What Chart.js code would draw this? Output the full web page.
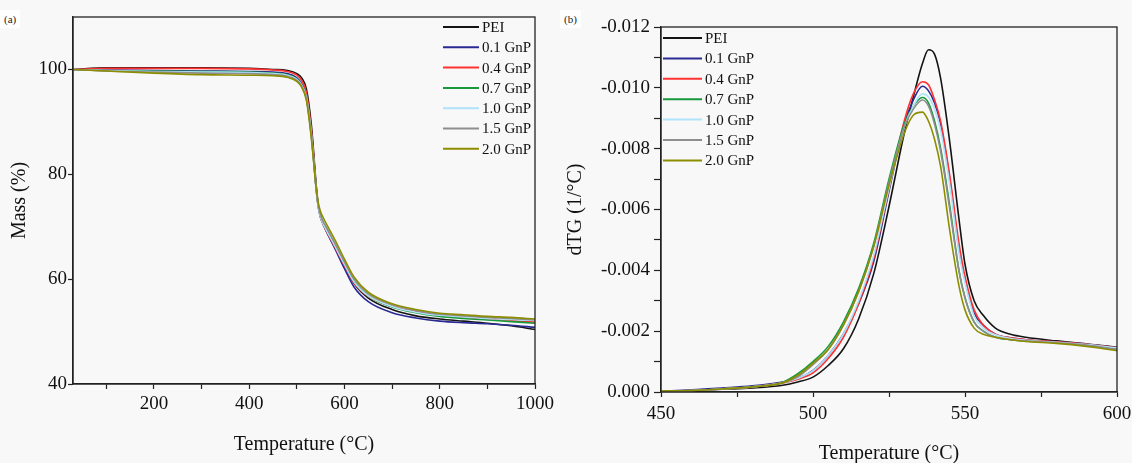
<!DOCTYPE html>
<html>
<head>
<meta charset="utf-8">
<script src="https://cdn.jsdelivr.net/npm/chart.js@4.4.0/dist/chart.umd.min.js"></script>
<style>
  html, body { margin: 0; padding: 0; background: #f8f8f8; overflow: hidden; }
  body { width: 1132px; height: 463px; position: relative; }
  canvas { position: absolute; top: 0; }
  #tga { left: 0; }
  #dtg { left: 556px; }
  .tag { position: absolute; top: 10px; font: 11px "Liberation Serif", serif; color: #222; background: #fff; padding: 3px 4px; }
</style>
</head>
<body>
<canvas id="tga" width="556" height="463"></canvas>
<canvas id="dtg" width="576" height="468"></canvas>
<div class="tag" style="left:0">(a)</div>
<div class="tag" style="left:560px">(b)</div>
<script>
const seriesNames = ['PEI', '0.1 GnP', '0.4 GnP', '0.7 GnP', '1.0 GnP', '1.5 GnP', '2.0 GnP'];
const seriesColors = ['#141414', '#2a2a94', '#ff3232', '#16993a', '#aee3fa', '#8e8e8e', '#8d8d00'];

// (a) mass loss, %
const tgaTemp = [30, 100, 200, 300, 400, 450, 480, 500, 510, 520, 530, 535, 540, 545, 550, 555, 560, 580, 600, 620, 650, 700, 750, 800, 850, 900, 950, 1000];
const tgaPEI  = [100, 100.3, 100.3, 100.3, 100.2, 100.0, 99.8, 99.2, 98.4, 96.3, 89.8, 84.5, 78.5, 74.0, 71.8, 70.6, 69.6, 66.0, 62.6, 59.2, 56.4, 54.2, 53.0, 52.4, 52.0, 51.6, 51.1, 50.4];
const tga01   = [100, 99.9, 99.8, 99.7, 99.6, 99.5, 99.2, 98.4, 97.3, 95.0, 88.5, 83.5, 77.8, 73.8, 71.7, 70.5, 69.5, 65.8, 62.0, 58.5, 55.7, 53.6, 52.6, 52.0, 51.7, 51.5, 51.2, 50.8];
const tga04   = [100, 100.2, 100.2, 100.2, 100.1, 99.9, 99.6, 98.9, 97.9, 95.6, 88.8, 83.7, 78.0, 73.9, 71.7, 70.6, 69.6, 66.1, 62.6, 59.3, 56.7, 54.8, 53.8, 53.1, 52.7, 52.4, 52.1, 51.8];
const tga07   = [100, 99.8, 99.7, 99.6, 99.5, 99.3, 99.0, 98.2, 97.0, 94.6, 87.9, 83.0, 77.8, 74.0, 72.1, 71.0, 70.1, 66.6, 63.0, 59.6, 56.8, 54.7, 53.6, 52.9, 52.5, 52.2, 51.9, 51.6];
const tga10   = [100, 99.8, 99.6, 99.5, 99.4, 99.2, 98.9, 98.1, 97.0, 94.7, 88.0, 83.0, 77.6, 73.7, 71.7, 70.6, 69.7, 66.3, 62.8, 59.5, 56.8, 54.8, 53.7, 53.1, 52.8, 52.5, 52.3, 52.1];
const tga15   = [100, 99.7, 99.5, 99.3, 99.2, 99.0, 98.7, 97.9, 96.8, 94.4, 87.6, 82.8, 77.7, 74.0, 72.1, 71.0, 70.2, 66.8, 63.3, 60.0, 57.2, 55.1, 54.0, 53.3, 53.0, 52.7, 52.5, 52.2];
const tga20   = [100, 99.7, 99.3, 99.0, 98.9, 98.8, 98.5, 97.7, 96.6, 94.1, 87.2, 82.6, 77.9, 74.6, 72.8, 71.8, 70.9, 67.5, 63.8, 60.4, 57.5, 55.3, 54.2, 53.5, 53.2, 52.9, 52.7, 52.4];

// (b) derivative, 1/°C
const dtgTemp = [450, 460, 470, 480, 490, 495, 500, 505, 510, 515, 520, 525, 530, 533, 536, 538, 540, 542, 545, 548, 550, 553, 556, 560, 565, 570, 580, 590, 600];
const dtgPEI = [-0.00003, -0.00005, -0.00009, -0.00013, -0.00022, -0.00033, -0.00049, -0.00087, -0.00142, -0.0024, -0.0039, -0.0061, -0.0085, -0.0097, -0.0108, -0.01125, -0.0111, -0.0103, -0.0082, -0.0057, -0.0042, -0.0030, -0.00252, -0.0021, -0.0019, -0.0018, -0.00168, -0.00158, -0.00147];
const dtg01  = [-0.00003, -0.00007, -0.00013, -0.0002, -0.00033, -0.00044, -0.00071, -0.0012, -0.0019, -0.0029, -0.0043, -0.0066, -0.0088, -0.0096, -0.01005, -0.0099, -0.0095, -0.0088, -0.0070, -0.0047, -0.0037, -0.0026, -0.0022, -0.0019, -0.00178, -0.00172, -0.00165, -0.00157, -0.00145];
const dtg04  = [-0.00003, -0.00005, -0.0001, -0.00017, -0.0003, -0.00042, -0.00063, -0.0011, -0.0018, -0.0029, -0.0044, -0.0067, -0.0089, -0.0098, -0.0102, -0.0101, -0.0096, -0.0089, -0.0071, -0.0049, -0.0038, -0.0027, -0.0022, -0.0019, -0.00178, -0.00172, -0.00165, -0.00157, -0.00145];
const dtg07  = [-0.00003, -0.00005, -0.0001, -0.00017, -0.00032, -0.0006, -0.001, -0.0015, -0.0023, -0.0034, -0.0049, -0.007, -0.0088, -0.0094, -0.00968, -0.0095, -0.0089, -0.0080, -0.0061, -0.0040, -0.0031, -0.0023, -0.002, -0.0018, -0.00172, -0.00168, -0.00162, -0.00154, -0.0014];
const dtg10  = [-0.00003, -0.00005, -0.0001, -0.00017, -0.0003, -0.00045, -0.0007, -0.0012, -0.0019, -0.003, -0.0045, -0.0067, -0.0087, -0.0094, -0.0098, -0.0097, -0.0093, -0.0086, -0.0068, -0.0046, -0.0036, -0.0025, -0.0021, -0.00188, -0.00176, -0.0017, -0.00163, -0.00156, -0.00145];
const dtg15  = [-0.00003, -0.00005, -0.0001, -0.00017, -0.0003, -0.0005, -0.0009, -0.0014, -0.0022, -0.0033, -0.0048, -0.0069, -0.0087, -0.0093, -0.0096, -0.0094, -0.0088, -0.0079, -0.006, -0.0040, -0.0031, -0.0023, -0.002, -0.0018, -0.00172, -0.00168, -0.00162, -0.00154, -0.0014];
const dtg20  = [-0.00003, -0.00005, -0.0001, -0.00017, -0.0003, -0.00055, -0.00095, -0.0014, -0.0022, -0.0033, -0.0048, -0.0068, -0.0085, -0.0091, -0.0092, -0.0089, -0.0083, -0.0074, -0.0053, -0.0035, -0.0027, -0.0021, -0.0019, -0.0018, -0.00172, -0.00166, -0.0016, -0.0015, -0.00136];

// tick values (labelled + unlabelled minor ones)
const tgaXLabels = [200, 400, 600, 800, 1000];
const tgaXMinor = [100, 300, 500, 700, 900];
const tgaYLabels = [40, 60, 80, 100];
const dtgXLabels = [450, 500, 550, 600];
const dtgXMinor = [475, 525, 575];
const dtgYLabels = [0, -0.002, -0.004, -0.006, -0.008, -0.010, -0.012];
const dtgYMinor = [-0.001, -0.003, -0.005, -0.007, -0.009, -0.011];

const FONT = '"Liberation Serif", "Times New Roman", serif';

function toDatasets(xs, ys) {
    return ys.map((arr, i) => ({
        label: seriesNames[i],
        data: arr.map((y, j) => ({ x: xs[j], y: y })),
        borderColor: seriesColors[i],
        borderWidth: 1.6,
        pointRadius: 0,
        cubicInterpolationMode: 'monotone',
        order: ys.length - i,
    }));
}

function setTicks(labels, minor) {
    return (scale) => {
        scale.ticks = labels.concat(minor || []).sort((a, b) => a - b).map(v => ({ value: v }));
    };
}

function fmt(labels, digits) {
    return (v) => {
        const hit = labels.some(l => Math.abs(l - v) < 1e-9);
        if (!hit) return '';
        const val = Math.abs(v) < 1e-9 ? 0 : v;
        return digits ? val.toFixed(digits) : String(val);
    };
}

// box round the plot area plus the in-plot legend
function decorations(legendPos) {
    return {
        id: 'decorations',
        afterDraw(chart) {
            const { ctx, chartArea: a } = chart;
            ctx.save();
            ctx.strokeStyle = '#222';
            ctx.lineWidth = 1.3;
            ctx.strokeRect(a.left, a.top, a.right - a.left, a.bottom - a.top);

            const x0 = legendPos.fromRight ? a.right - legendPos.dx : a.left + legendPos.dx;
            ctx.font = '15px ' + FONT;
            ctx.textBaseline = 'middle';
            ctx.fillStyle = '#111';
            chart.data.datasets.forEach((ds, i) => {
                const y = a.top + legendPos.dy + i * legendPos.step;
                ctx.strokeStyle = ds.borderColor;
                ctx.lineWidth = 2;
                ctx.beginPath();
                ctx.moveTo(x0, y);
                ctx.lineTo(x0 + legendPos.len, y);
                ctx.stroke();
                ctx.fillText(ds.label, x0 + legendPos.len + 3, y + 1);
            });
            ctx.restore();
        }
    };
}

function axis(opts) {
    return {
        type: 'linear',
        min: opts.min,
        max: opts.max,
        reverse: !!opts.reverse,
        afterBuildTicks: setTicks(opts.labels, opts.minor),
        afterFit: (s) => {
            if (opts.width) s.width = opts.width;
            if (opts.height) s.height = opts.height;
            // let the layout padding alone decide where the plot box ends
            s.paddingLeft = 0; s.paddingRight = 0; s.paddingTop = 0; s.paddingBottom = 0;
        },
        grid: { drawOnChartArea: false, tickLength: opts.tickLength, tickColor: '#222', tickWidth: 1.2 },
        border: { color: '#222', width: 1.3 },
        ticks: {
            autoSkip: false,
            maxRotation: 0,
            padding: opts.padding,
            color: '#111',
            font: { family: FONT, size: opts.fontSize },
            callback: fmt(opts.labels, opts.digits),
        },
        title: {
            display: true,
            text: opts.title,
            color: '#111',
            font: { family: FONT, size: 20 },
            padding: opts.titlePadding,
        },
    };
}

new Chart(document.getElementById('tga'), {
    type: 'line',
    data: { datasets: toDatasets(tgaTemp, [tgaPEI, tga01, tga04, tga07, tga10, tga15, tga20]) },
    options: {
        responsive: false,
        animation: false,
        layout: { padding: { top: 17, right: 21, left: 0, bottom: 0 } },
        plugins: { legend: { display: false }, tooltip: { enabled: false } },
        scales: {
            x: axis({ min: 30, max: 1000, labels: tgaXLabels, minor: tgaXMinor, height: 79, tickLength: 5, padding: 4,
                      fontSize: 19, title: 'Temperature (°C)', titlePadding: { top: 0, bottom: 6 } }),
            y: axis({ min: 40, max: 110, labels: tgaYLabels, width: 73, tickLength: 5, padding: 1,
                      fontSize: 19, title: 'Mass (%)', titlePadding: { top: 8, bottom: 0 } }),
        },
    },
    plugins: [decorations({ fromRight: true, dx: 92, dy: 10, step: 20.3, len: 36 })],
});

new Chart(document.getElementById('dtg'), {
    type: 'line',
    data: { datasets: toDatasets(dtgTemp, [dtgPEI, dtg01, dtg04, dtg07, dtg10, dtg15, dtg20]) },
    options: {
        responsive: false,
        animation: false,
        layout: { padding: { top: 27, right: 15, left: 0, bottom: 0 } },
        plugins: { legend: { display: false }, tooltip: { enabled: false } },
        scales: {
            x: axis({ min: 450, max: 600, labels: dtgXLabels, minor: dtgXMinor, height: 76, tickLength: 5, padding: 6,
                      fontSize: 19, title: 'Temperature (°C)', titlePadding: { top: 0, bottom: 2 } }),
            y: axis({ min: -0.012, max: 0, reverse: true, labels: dtgYLabels, minor: dtgYMinor, width: 105, tickLength: 7,
                      padding: 4, digits: 3, fontSize: 19, title: 'dTG (1/°C)', titlePadding: { top: 8, bottom: 0 } }),
        },
    },
    plugins: [decorations({ fromRight: false, dx: 2, dy: 11, step: 20.4, len: 39 })],
});
</script>
</body>
</html>
